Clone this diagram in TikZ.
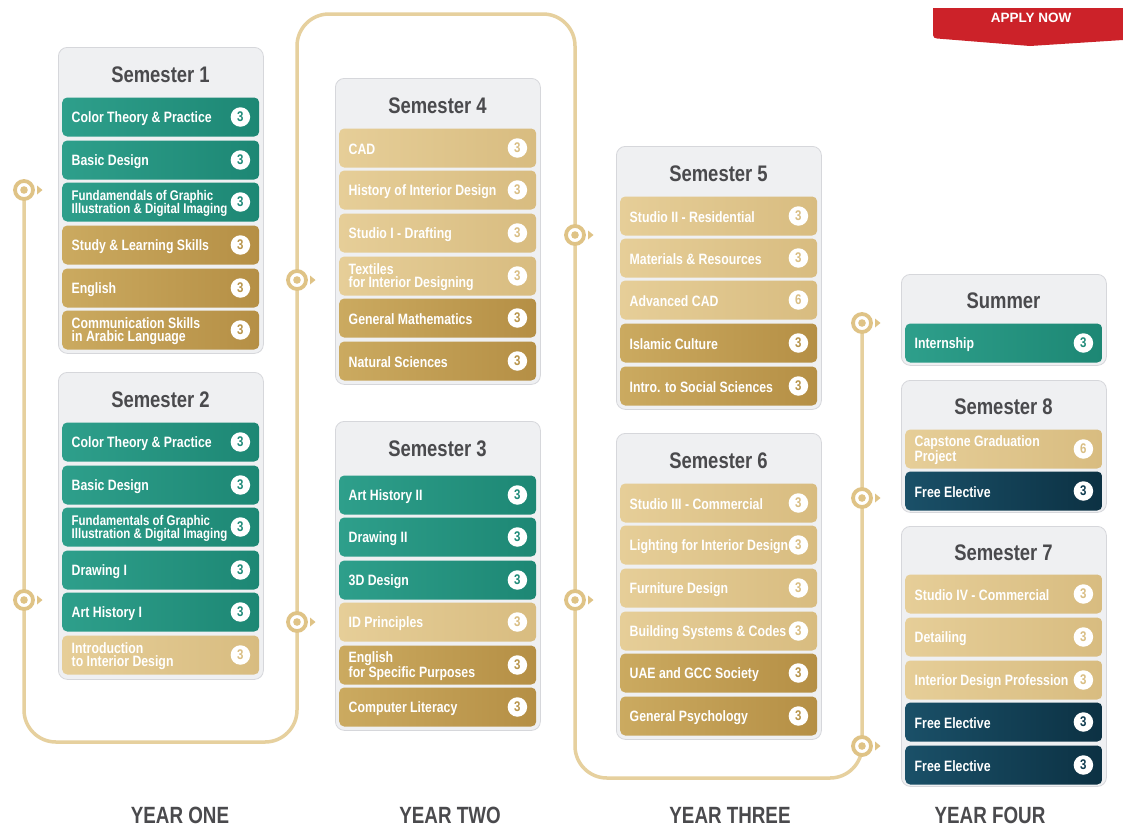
\documentclass[tikz,border=0pt]{standalone}
\usepackage{fontspec}
\setmainfont{Liberation Sans}
\newfontfamily\condfont[FakeStretch=0.82]{Liberation Sans}
\newfontfamily\yearfont[FakeStretch=0.8]{Liberation Sans}
\definecolor{tealL}{HTML}{2E9F8B}
\definecolor{tealM}{HTML}{36AC96}
\definecolor{tealR}{HTML}{1D8774}
\definecolor{tealnum}{HTML}{1E8A78}
\definecolor{paleL}{HTML}{E6CE98}
\definecolor{paleR}{HTML}{D8BC80}
\definecolor{palenum}{HTML}{D9BE84}
\definecolor{darkL}{HTML}{CBAA60}
\definecolor{darkM}{HTML}{C4A158}
\definecolor{darkR}{HTML}{B58F45}
\definecolor{darknum}{HTML}{B8954C}
\definecolor{navyL}{HTML}{1A5068}
\definecolor{navyR}{HTML}{0C3143}
\definecolor{navynum}{HTML}{0E3A4E}
\definecolor{boxbg}{HTML}{EFF0F2}
\definecolor{boxline}{HTML}{D6D7DB}
\definecolor{titlegray}{HTML}{4A4A4D}
\definecolor{linegold}{HTML}{E6D09E}
\definecolor{markgold}{HTML}{DFC386}
\definecolor{applyred}{HTML}{CC2229}
\tikzset{
  sembox/.style={draw=boxline, line width=0.8pt, fill=boxbg, rounded corners=9pt,
    minimum width=205pt, inner sep=0pt},
  semtitle/.style={font=\condfont\bfseries\fontsize{22.5}{23}\selectfont, text=titlegray, inner sep=0pt},
  crow/.style={rounded corners=5pt, minimum width=197pt, minimum height=39pt, inner sep=0pt},
  tealrow/.style={left color=tealL, middle color=tealM, right color=tealR},
  palerow/.style={left color=paleL, right color=paleR},
  darkrow/.style={left color=darkL, middle color=darkM, right color=darkR},
  navyrow/.style={left color=navyL, right color=navyR},
  ctext/.style={font=\condfont\bfseries\fontsize{15}{13.5}\selectfont, text=white, align=left, inner sep=0pt},
  badge/.style={circle, fill=white, minimum size=19.5pt, inner sep=0pt,
    font=\condfont\bfseries\fontsize{14}{14}\selectfont},
  pathline/.style={draw=linegold, line width=3.5pt, rounded corners=32pt},
  mring/.style={circle, draw=markgold, line width=3.8pt, fill=white, minimum size=18pt, inner sep=0pt},
  yearlabel/.style={font=\yearfont\bfseries\fontsize{23.5}{24}\selectfont, text=titlegray, inner sep=0pt},
  applytext/.style={font=\bfseries\fontsize{13.5}{13.5}\selectfont, text=white, inner sep=0pt}
}
\newcommand{\sem}[6]{%
  \node[sembox, anchor=north west, minimum height=#4pt] (#1) at (#2,#3) {};
  \node[semtitle] (#1t) at (#2+102.5,#6) {#5};}
\newcommand{\crs}[6]{%
  \node[crow, #4row, anchor=west] (#1) at (#2+4,#3) {};
  \node[ctext, anchor=west] (#1x) at ([xshift=9.5pt,yshift=-1.2pt]#1.west) {#5};
  \node[badge, text=#4num] (#1b) at ([xshift=-19pt]#1.east) {#6};}
\newcommand{\marker}[3]{%
  \node[mring] (#1) at (#2,#3) {};
  \fill[markgold] (#1.center) circle (3.8pt);
  \fill[markgold] ([xshift=13pt,yshift=4.5pt]#1.center) -- ++(5.5pt,-4.5pt) -- ++(-5.5pt,-4.5pt) -- cycle;}
\newcommand{\smaller}{\fontsize{14}{13.5}\selectfont}
\begin{document}
\begin{tikzpicture}[x=1pt,y=-1pt]
\useasboundingbox[fill=white] (0,0) rectangle (1123,830);
% timeline path
\coordinate (c1) at (24,742);
\coordinate (c2) at (297,742);
\coordinate (c3) at (297,14);
\coordinate (c4) at (575,14);
\coordinate (c5) at (575,778);
\coordinate (c6) at (862,778);
\coordinate (pstart) at (24,190);
\coordinate (pend) at (862,323);
\draw[pathline] (pstart) -- (c1) -- (c2) -- (c3) -- (c4) -- (c5) -- (c6) -- (pend);
\marker{m1}{24}{190}
\marker{m2}{24}{600}
\marker{m3}{297}{622}
\marker{m4}{297}{280}
\marker{m5}{575}{235}
\marker{m6}{575}{600}
\marker{m7}{862}{746}
\marker{m8}{862}{498}
\marker{m9}{862}{323}
% apply now
\fill[applyred] (933,8) -- (1123,8) -- (1123,40) -- (1030,46) -- (937,38.5) to[out=190,in=270] (933,35) -- cycle;
\node[applytext] (apply) at (1031,18) {APPLY NOW};
% Semester 1
\sem{s1}{58}{47}{306}{Semester 1}{75}
\crs{s1a}{58}{117}{teal}{Color Theory \& Practice}{3}
\crs{s1b}{58}{160}{teal}{Basic Design}{3}
\crs{s1c}{58}{202}{teal}{\smaller Fundamendals of Graphic\\\smaller Illustration \& Digital Imaging}{3}
\crs{s1d}{58}{245}{dark}{Study \& Learning Skills}{3}
\crs{s1e}{58}{288}{dark}{English}{3}
\crs{s1f}{58}{330}{dark}{Communication Skills\\in Arabic Language}{3}
% Semester 2
\sem{s2}{58}{372}{307}{Semester 2}{400}
\crs{s2a}{58}{442}{teal}{Color Theory \& Practice}{3}
\crs{s2b}{58}{485}{teal}{Basic Design}{3}
\crs{s2c}{58}{527}{teal}{\smaller Fundamentals of Graphic\\\smaller Illustration \& Digital Imaging}{3}
\crs{s2d}{58}{570}{teal}{Drawing I}{3}
\crs{s2e}{58}{612}{teal}{Art History I}{3}
\crs{s2f}{58}{655}{pale}{Introduction\\to Interior Design}{3}
% Semester 4
\sem{s4}{335}{78}{306}{Semester 4}{106}
\crs{s4a}{335}{148}{pale}{CAD}{3}
\crs{s4b}{335}{190}{pale}{History of Interior Design}{3}
\crs{s4c}{335}{233}{pale}{Studio I - Drafting}{3}
\crs{s4d}{335}{276}{pale}{Textiles\\for Interior Designing}{3}
\crs{s4e}{335}{318}{dark}{General Mathematics}{3}
\crs{s4f}{335}{361}{dark}{Natural Sciences}{3}
% Semester 3
\sem{s3}{335}{421}{309}{Semester 3}{449}
\crs{s3a}{335}{495}{teal}{Art History II}{3}
\crs{s3b}{335}{537}{teal}{Drawing II}{3}
\crs{s3c}{335}{580}{teal}{3D Design}{3}
\crs{s3d}{335}{622}{pale}{ID Principles}{3}
\crs{s3e}{335}{665}{dark}{English\\for Specific Purposes}{3}
\crs{s3f}{335}{707}{dark}{Computer Literacy}{3}
% Semester 5
\sem{s5}{616}{146}{263}{Semester 5}{174}
\crs{s5a}{616}{216}{pale}{Studio II - Residential}{3}
\crs{s5b}{616}{258}{pale}{Materials \& Resources}{3}
\crs{s5c}{616}{300}{pale}{Advanced CAD}{6}
\crs{s5d}{616}{343}{dark}{Islamic Culture}{3}
\crs{s5e}{616}{386}{dark}{Intro. to Social Sciences}{3}
% Semester 6
\sem{s6}{616}{433}{306}{Semester 6}{461}
\crs{s6a}{616}{503}{pale}{Studio III - Commercial}{3}
\crs{s6b}{616}{545}{pale}{Lighting for Interior Design}{3}
\crs{s6c}{616}{588}{pale}{Furniture Design}{3}
\crs{s6d}{616}{631}{pale}{Building Systems \& Codes}{3}
\crs{s6e}{616}{673}{dark}{UAE and GCC Society}{3}
\crs{s6f}{616}{716}{dark}{General Psychology}{3}
% Summer
\sem{su}{901}{274}{91}{Summer}{301}
\crs{sua}{901}{343}{teal}{Internship}{3}
% Semester 8
\sem{s8}{901}{380}{132}{Semester 8}{407}
\crs{s8a}{901}{449}{pale}{Capstone Graduation\\Project}{6}
\crs{s8b}{901}{491}{navy}{Free Elective}{3}
% Semester 7
\sem{s7}{901}{526}{260}{Semester 7}{553}
\crs{s7a}{901}{594}{pale}{Studio IV - Commercial}{3}
\crs{s7b}{901}{637}{pale}{Detailing}{3}
\crs{s7c}{901}{680}{pale}{Interior Design Profession}{3}
\crs{s7d}{901}{722}{navy}{Free Elective}{3}
\crs{s7e}{901}{765}{navy}{Free Elective}{3}
% year labels
\node[yearlabel] (y1) at (180,815) {YEAR ONE};
\node[yearlabel] (y2) at (450,815) {YEAR TWO};
\node[yearlabel] (y3) at (730,815) {YEAR THREE};
\node[yearlabel] (y4) at (990,815) {YEAR FOUR};
\end{tikzpicture}
\end{document}
